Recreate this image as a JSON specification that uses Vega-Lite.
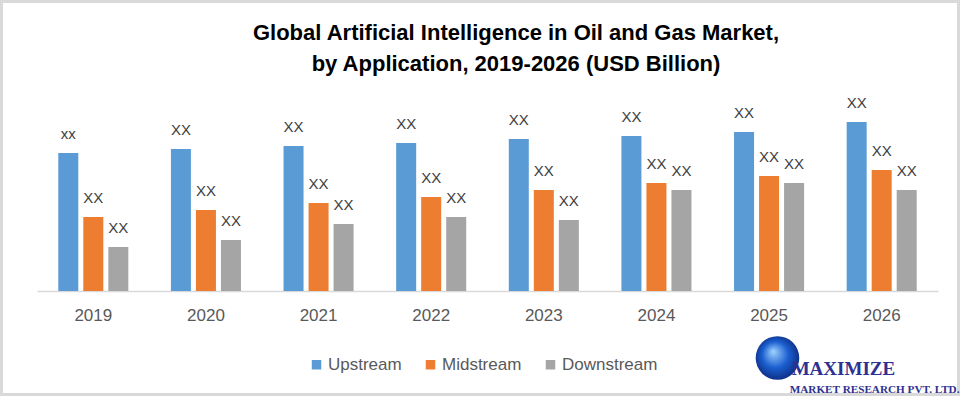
{
  "$schema": "https://vega.github.io/schema/vega-lite/v6.json",
  "width": 960,
  "height": 396,
  "autosize": {"type": "none"},
  "padding": 0,
  "background": "white",
  "title": {
    "text": ["Global Artificial Intelligence in Oil and Gas Market,", "by Application,  2019-2026 (USD Billion)"],
    "font": "Liberation Sans, sans-serif",
    "fontSize": 22,
    "fontWeight": "bold",
    "color": "#000000",
    "anchor": "middle",
    "frame": "group",
    "offset": -76,
    "dx": 36,
    "lineHeight": 31
  },
  "config": {
    "view": {"stroke": "#d9d9d9", "strokeWidth": 6}
  },
  "data": {
    "values": [
      {"year": "2019", "series": "Upstream", "value": 138, "label": "xx"},
      {"year": "2019", "series": "Midstream", "value": 74, "label": "XX"},
      {"year": "2019", "series": "Downstream", "value": 44, "label": "XX"},
      {"year": "2020", "series": "Upstream", "value": 142, "label": "XX"},
      {"year": "2020", "series": "Midstream", "value": 81, "label": "XX"},
      {"year": "2020", "series": "Downstream", "value": 51, "label": "XX"},
      {"year": "2021", "series": "Upstream", "value": 145, "label": "XX"},
      {"year": "2021", "series": "Midstream", "value": 88, "label": "XX"},
      {"year": "2021", "series": "Downstream", "value": 67, "label": "XX"},
      {"year": "2022", "series": "Upstream", "value": 148, "label": "XX"},
      {"year": "2022", "series": "Midstream", "value": 94, "label": "XX"},
      {"year": "2022", "series": "Downstream", "value": 74, "label": "XX"},
      {"year": "2023", "series": "Upstream", "value": 152, "label": "XX"},
      {"year": "2023", "series": "Midstream", "value": 101, "label": "XX"},
      {"year": "2023", "series": "Downstream", "value": 71, "label": "XX"},
      {"year": "2024", "series": "Upstream", "value": 155, "label": "XX"},
      {"year": "2024", "series": "Midstream", "value": 108, "label": "XX"},
      {"year": "2024", "series": "Downstream", "value": 101, "label": "XX"},
      {"year": "2025", "series": "Upstream", "value": 159, "label": "XX"},
      {"year": "2025", "series": "Midstream", "value": 115, "label": "XX"},
      {"year": "2025", "series": "Downstream", "value": 108, "label": "XX"},
      {"year": "2026", "series": "Upstream", "value": 169, "label": "XX"},
      {"year": "2026", "series": "Midstream", "value": 121, "label": "XX"},
      {"year": "2026", "series": "Downstream", "value": 101, "label": "XX"}
    ]
  },
  "layer": [
    {
      "mark": {"type": "bar"},
      "encoding": {
        "x": {
          "field": "year", "type": "nominal",
          "scale": {"range": [37, 938], "paddingInner": 0.378, "paddingOuter": 0.189},
          "axis": {
            "title": null, "orient": "bottom", "offset": -105, "labelAngle": 0,
            "ticks": false, "domainColor": "#d9d9d9", "domainWidth": 1.5,
            "labelFont": "Liberation Sans, sans-serif",
            "labelFontSize": 17, "labelColor": "#595959", "labelPadding": 16
          }
        },
        "xOffset": {"field": "series", "type": "nominal", "sort": ["Upstream", "Midstream", "Downstream"], "scale": {"paddingInner": 0.2}},
        "y": {"field": "value", "type": "quantitative", "scale": {"domain": [0, 191], "range": [291, 100], "nice": false, "zero": true}, "axis": null},
        "color": {
          "field": "series", "type": "nominal",
          "scale": {"domain": ["Upstream", "Midstream", "Downstream"], "range": ["#5b9bd5", "#ed7d31", "#a5a5a5"]},
          "legend": {
            "orient": "none", "legendX": 308, "legendY": 356, "direction": "horizontal",
            "title": null, "symbolType": "square", "symbolSize": 90,
            "labelFont": "Liberation Sans, sans-serif",
            "labelFontSize": 17, "labelColor": "#595959", "columnPadding": 20, "labelOffset": 3
          }
        }
      }
    },
    {
      "mark": {"type": "text", "baseline": "alphabetic", "dy": -14, "font": "Liberation Sans, sans-serif", "fontSize": 15, "color": "#404040"},
      "encoding": {
        "x": {"field": "year", "type": "nominal"},
        "xOffset": {"field": "series", "type": "nominal", "sort": ["Upstream", "Midstream", "Downstream"]},
        "y": {"field": "value", "type": "quantitative"},
        "text": {"field": "label"}
      }
    },
    {
      "data": {"values": [{"logo": "globe"}]},
      "mark": {"type": "point", "filled": true, "size": 1900, "opacity": 1, "shape": "circle",
        "color": {"gradient": "radial", "x1": 0.4, "y1": 0.35, "x2": 0.5, "y2": 0.5, "r1": 0, "r2": 0.6,
          "stops": [{"offset": 0, "color": "#9fd3ff"}, {"offset": 0.5, "color": "#1b5fd0"}, {"offset": 1, "color": "#0a1f6e"}]}},
      "encoding": {"x": {"datum": "2025", "bandPosition": 0.62}, "y": {"datum": -67}}
    },
    {
      "data": {"values": [{"t": "MAXIMIZE"}]},
      "mark": {"type": "text", "font": "Liberation Serif, serif", "fontWeight": "bold", "fontSize": 19, "color": "#2e3192", "baseline": "alphabetic", "align": "left", "dx": -90},
      "encoding": {"x": {"datum": "2026"}, "y": {"datum": -84}, "text": {"field": "t"}}
    },
    {
      "data": {"values": [{"t": "MARKET RESEARCH PVT. LTD."}]},
      "mark": {"type": "text", "font": "Liberation Serif, serif", "fontWeight": "bold", "fontSize": 11.2, "color": "#2e3192", "baseline": "alphabetic", "align": "left", "dx": -92},
      "encoding": {"x": {"datum": "2026"}, "y": {"datum": -102}, "text": {"field": "t"}}
    }
  ]
}
